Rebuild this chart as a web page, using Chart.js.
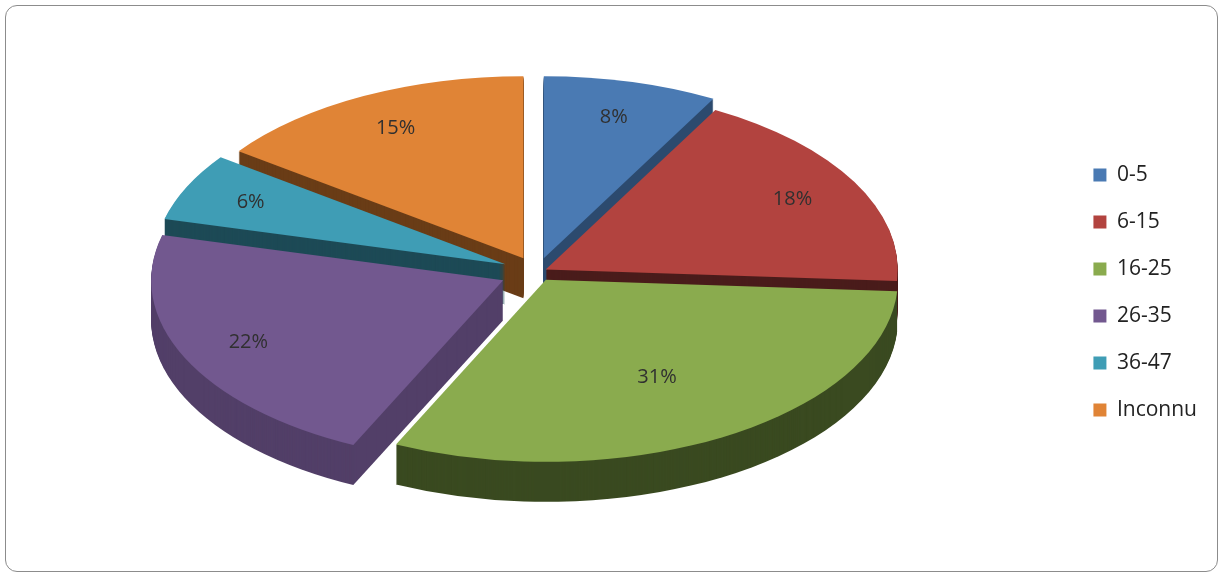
<!DOCTYPE html>
<html>
<head>
<meta charset="utf-8">
<script src="https://cdn.jsdelivr.net/npm/chart.js@4"></script>
<style>
  body { margin: 0; background: #fff; }
  #box { position: absolute; left: 5px; top: 5px; width: 1211px; height: 565px; border: 1.5px solid #8c8c8c; border-radius: 12px; }
  canvas { position: absolute; left: 0; top: 0; }
</style>
</head>
<body>
<div id="box"></div>
<canvas id="grafico" width="1221" height="575"></canvas>
<script>
const categories = ["0-5", "6-15", "16-25", "26-35", "36-47", "Inconnu"]
const values = [8, 18, 31, 22, 6, 15]
const topColors = ["#4a7ab3", "#b2433f", "#8aab4e", "#72588f", "#3f9db5", "#e08436"]
const sideColors = ["#2c4a6e", "#4a1c1b", "#3a4a20", "#523f68", "#1d4a56", "#6a3d17"]
const explode = [22, 8, 14, 30, 28, 24]

const CX = 537, CY = 272, RX = 352, RY = 182, DEPTH = 40

function slicePath(ctx, el, i, dy) {
  const r = el.outerRadius
  const mid = (el.startAngle + el.endAngle) / 2
  const ox = Math.cos(mid) * explode[i], oy = Math.sin(mid) * explode[i]
  const sx = RX / r, sy = RY / r
  ctx.save()
  ctx.translate(CX, CY + dy)
  ctx.scale(sx, sy)
  ctx.beginPath()
  ctx.moveTo(ox, oy)
  ctx.arc(ox, oy, r, el.startAngle, el.endAngle)
  ctx.closePath()
  ctx.restore()
}

const pie3d = {
  id: "pie3d",
  beforeDatasetsDraw(chart) {
    const ctx = chart.ctx
    const arcs = chart.getDatasetMeta(0).data
    for (let dy = DEPTH; dy > 0; dy -= 1) {
      arcs.forEach((el, i) => {
        slicePath(ctx, el, i, dy)
        ctx.fillStyle = sideColors[i]
        ctx.fill()
      })
    }
    arcs.forEach((el, i) => {
      slicePath(ctx, el, i, 0)
      ctx.fillStyle = topColors[i]
      ctx.fill()
    })
    ctx.save()
    ctx.font = "20px 'Open Sans', Arial, sans-serif"
    ctx.fillStyle = "#303030"
    ctx.textAlign = "center"
    ctx.textBaseline = "middle"
    arcs.forEach((el, i) => {
      const r = el.outerRadius
      const mid = (el.startAngle + el.endAngle) / 2
      const k = i == 2 ? 0.62 : 0.8
      const px = CX + (Math.cos(mid) * (r * k + explode[i])) * RX / r
      const py = CY + (Math.sin(mid) * (r * k + explode[i])) * RY / r
      ctx.fillText(values[i] + "%", px, py)
    })
    ctx.restore()
    return false
  }
}

new Chart(document.getElementById("grafico"), {
  type: "pie",
  data: {
    labels: categories,
    datasets: [{ data: values, backgroundColor: topColors, borderWidth: 0 }]
  },
  options: {
    responsive: false,
    animation: false,
    layout: { padding: { right: 14, top: 10 } },
    plugins: {
      tooltip: { enabled: false },
      legend: {
        position: "right",
        labels: {
          boxWidth: 13, boxHeight: 13, padding: 26,
          color: "#222",
          font: { size: 21, family: "'Open Sans', Arial, sans-serif" }
        }
      }
    }
  },
  plugins: [pie3d]
})
</script>
</body>
</html>
